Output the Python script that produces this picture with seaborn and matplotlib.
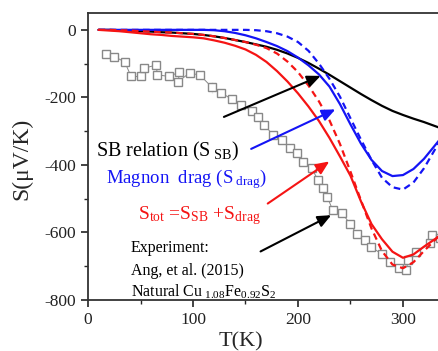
import numpy as np
import pandas as pd
import matplotlib
matplotlib.use("Agg")
import matplotlib.pyplot as plt
import seaborn as sns

# ---------------- data ----------------
T_model = [10, 20, 30, 40, 50, 60, 70, 80, 90, 100, 110, 120, 130, 140, 150, 160, 170,
           180, 190, 200, 210, 220, 230, 240, 250, 260, 270, 280, 290, 300, 310, 320, 335]
S_SB = [0, 0, -1, -2, -4, -5, -7, -8, -10, -12, -15, -19, -24, -30, -36, -43, -50,
        -59, -70, -83, -98, -115, -133, -152, -171, -190, -208, -225, -240, -252, -263, -273, -290]
S_drag = [0, 0, 0, 0, 0, 0, 0, 0, 0, 0, 0, -1, -4, -9, -16, -25, -36,
          -48, -63, -82, -105, -132, -168, -220, -280, -337, -385, -418, -433, -430, -412, -382, -325]
S_drag_dash = [0, 0, 0, 0, 0, 0, 0, 0, 0, 0, 0, 0, 0, 0, 0, -1, -4,
               -10, -20, -36, -62, -100, -145, -198, -262, -325, -385, -438, -466, -473, -452, -410, -330]
S_tot = [0, -2, -4, -7, -10, -13, -15, -18, -20, -22, -25, -31, -38, -47, -58, -74, -95,
         -122, -153, -188, -227, -270, -320, -375, -432, -508, -575, -620, -657, -675, -665, -642, -610]
S_tot_dash = [0, 0, -1, -2, -4, -5, -7, -8, -10, -12, -15, -19, -24, -30, -36, -44, -54,
              -70, -94, -125, -165, -212, -268, -338, -420, -505, -588, -655, -695, -706, -688, -655, -608]

T_exp = [17, 25, 35, 41, 50, 53, 65, 66, 77, 87, 86, 97, 107, 118, 118, 127, 137, 146, 156,
         162, 168, 176, 185, 192, 199, 205, 213, 219, 224, 228, 233, 242, 250, 256, 264, 270,
         280, 288, 296, 303, 305, 312, 326, 328, 335]
S_exp = [-72, -79, -95, -138, -138, -114, -104, -133, -138, -125, -153, -127, -135, -154, -186,
         -186, -206, -222, -240, -257, -281, -311, -326, -351, -365, -390, -410, -444, -469, -496,
         -533, -543, -576, -605, -622, -644, -664, -686, -704, -711, -683, -659, -632, -607, -615]

x_ticks = [0, 100, 200, 300]
y_ticks = [0, -200, -400, -600, -800]

BLUE = "#1414f5"
RED = "#f51414"

# ---------------- style ----------------
sns.set_style("ticks")
plt.rcParams['font.family'] = ['Liberation Serif', 'DejaVu Serif']
plt.rcParams['mathtext.fontset'] = 'custom'
plt.rcParams['mathtext.rm'] = 'Liberation Serif'
plt.rcParams['mathtext.it'] = 'Liberation Serif:italic'
plt.rcParams['axes.unicode_minus'] = False

fig = plt.figure(figsize=(4.39, 3.51), dpi=100)
ax = fig.add_axes([0.2005, 0.1453, 0.837, 0.8177])

dfm = pd.DataFrame({"T": T_model, "SB": S_SB, "drag": S_drag, "dragd": S_drag_dash,
                    "tot": S_tot, "totd": S_tot_dash})
dfe = pd.DataFrame({"T": T_exp, "S": S_exp})

lw = 1.6
sns.lineplot(data=dfe, x="T", y="S", ax=ax, sort=False, color="#888888", lw=0.7,
             marker="s", markersize=5.2, markerfacecolor="white", markeredgecolor="#888888",
             markeredgewidth=1.0)
sns.lineplot(data=dfm, x="T", y="SB", ax=ax, color="black", lw=lw)
sns.lineplot(data=dfm, x="T", y="dragd", ax=ax, color=BLUE, lw=lw, linestyle=(0, (3, 2)))
sns.lineplot(data=dfm, x="T", y="drag", ax=ax, color=BLUE, lw=lw)
sns.lineplot(data=dfm, x="T", y="totd", ax=ax, color=RED, lw=lw, linestyle=(0, (3, 2)))
sns.lineplot(data=dfm, x="T", y="tot", ax=ax, color=RED, lw=lw)

ax.set_xlim(0, 350)
ax.set_ylim(-800, 50)
ax.set_xticks(x_ticks)
ax.set_yticks(y_ticks)
ax.set_xticks([50, 150, 250], minor=True)
ax.set_yticks([-100, -300, -500, -700], minor=True)
ax.tick_params(axis='both', which='major', direction='out', length=5, width=1.2,
               labelsize=12.5, colors='#222222')
ax.tick_params(axis='both', which='minor', direction='out', length=3, width=1.0)
for s in ax.spines.values():
    s.set_linewidth(1.3)
    s.set_color('#333333')

ax.set_xlabel("T(K)", fontsize=16)
ax.set_ylabel("S(μV/K)", fontsize=17)
ax.xaxis.set_label_coords(0.416, -0.111)
ax.yaxis.set_label_coords(-0.152, 0.49)

# annotations
ax.text(8, -375, r"SB relation (S$_{\rm\ SB}$)", fontsize=14.5, color="black")
ax.text(17, -455, r"Magnon  drag (S$_{\rm\ drag}$)", fontsize=13.5, color=BLUE)
ax.text(48, -560, r"S$_{\rm tot}$ =S$_{\rm SB}$ +S$_{\rm drag}$", fontsize=14, color=RED)
ax.text(41, -657, "Experiment:", fontsize=11.5, color="black")
ax.text(41, -725, "Ang, et al. (2015)", fontsize=11.5, color="black")
ax.text(41, -790, r"Natural Cu$_{\rm\ 1.08}$Fe$_{\rm 0.92}$S$_{\rm 2}$", fontsize=11.5, color="black")

arrow_kw = dict(arrowstyle="-|>,head_length=0.8,head_width=0.35", lw=1.5)
ax.annotate("", xy=(224, -133), xytext=(127, -261),
            arrowprops=dict(color="black", **arrow_kw))
ax.annotate("", xy=(238, -232), xytext=(153, -356),
            arrowprops=dict(color=BLUE, **arrow_kw))
ax.annotate("", xy=(232, -385), xytext=(169, -519),
            arrowprops=dict(color=RED, **arrow_kw))
ax.annotate("", xy=(234, -545), xytext=(162, -660),
            arrowprops=dict(color="black", **arrow_kw))

fig.savefig("out.png", dpi=100)
